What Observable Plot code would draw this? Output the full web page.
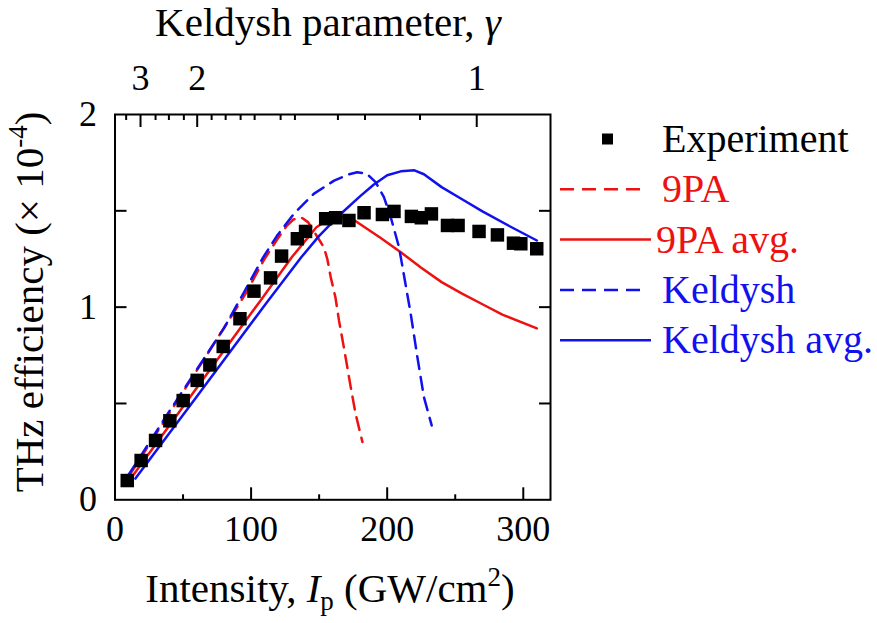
<!DOCTYPE html>
<html><head><meta charset="utf-8">
<script src="https://cdn.jsdelivr.net/npm/d3@7"></script>
<script src="https://cdn.jsdelivr.net/npm/@observablehq/plot@0.6"></script>
<style>
body{margin:0;background:#fff;}
#wrap{width:877px;height:623px;}
</style></head><body><div id="wrap"></div>
<script>
// ---- data ----
const expI   = [9.0,19.2,29.8,40.3,50.1,60.4,69.7,79.5,91.8,102.1,114.3,122.4,134.0,140.0,154.8,162.1,171.9,183.0,196.5,205.0,217.8,225.1,232.5,244.3,252.1,267.5,281.0,292.8,298.2,309.9];
const expEff = [0.100,0.204,0.308,0.410,0.515,0.620,0.700,0.796,0.940,1.083,1.152,1.265,1.355,1.393,1.459,1.464,1.450,1.490,1.481,1.497,1.471,1.464,1.484,1.424,1.424,1.393,1.375,1.332,1.329,1.303];

const pa9I   = [10,40,70,96,109,119,126,131,137,142,146.5,150,153.5,156,158.5,162,164.6,168.2,173.2,176.8,181.8];
const pa9Eff = [0.12,0.45,0.78,1.07,1.24,1.35,1.42,1.455,1.465,1.44,1.39,1.35,1.31,1.25,1.156,1.05,0.93,0.79,0.585,0.446,0.30];

const pa9AvgI   = [12,60,107,130,148,158,166,175,195,210,225,240,255,270,285,310];
const pa9AvgEff = [0.115,0.58,1.035,1.26,1.415,1.46,1.47,1.455,1.36,1.285,1.205,1.13,1.07,1.015,0.96,0.89];

const keldI   = [10,40,80,95,109,119,131.5,146,161,172,178,185,191.5,197.6,202.6,208.7,217.3,222.2,227,232.7];
const keldEff = [0.13,0.46,0.89,1.08,1.26,1.37,1.485,1.588,1.657,1.69,1.70,1.692,1.649,1.571,1.467,1.311,0.965,0.74,0.533,0.386];

const keldAvgI   = [15,60,110,137,150,166,180,190,200,210,220,227,240,255,270,290,310];
const keldAvgEff = [0.11,0.535,1.01,1.26,1.37,1.485,1.575,1.635,1.685,1.705,1.71,1.69,1.623,1.56,1.497,1.42,1.346];

// axis ticks
const xMajor = [0,100,200,300];
const xMinor = [50,150,250];
const yLabels = [0,1,2];
const yTicks = [0.5,1,1.5];
const gammaLabels = ["3","2","1"];
const gammaMajorI = [18.75,60.4,265.8];
const gammaMinorI = [8.2,29.8,39.6,50.6,71,81.3,92.3,102.6,121.7,132.2,163.8,183.7,224.1];

const legendLabels = ["Experiment","9PA","9PA avg.","Keldysh","Keldysh avg."];
const legendColors = ["#000","#ee1111","#ee1111","#1111ee","#1111ee"];
const legendKinds  = ["square","dash","solid","dash","solid"];

// ---- build ----
const RED = "#ee1111", BLUE = "#1111ee";
const FONT = '"Liberation Serif","Times New Roman",serif';
const fs = 36;
const tfs = 41;
const dash = "13,8";
const pts = (xs, ys) => xs.map((x, i) => ({x, y: ys[i]}));

const svg = Plot.plot({
  width: 877, height: 623,
  marginLeft: 114.5, marginRight: 327, marginTop: 114, marginBottom: 123.7,
  x: {domain: [0, 320]},
  y: {domain: [0, 2]},
  style: {fontFamily: FONT, fontSize: fs + "px", color: "#000", background: "#fff"},
  marks: [
    Plot.axisX(xMajor, {anchor: "bottom", tickSize: -12, tickPadding: 28, strokeWidth: 2, fontSize: fs, label: null, tickFormat: d => String(d)}),
    Plot.axisX(xMinor, {anchor: "bottom", tickSize: -5, strokeWidth: 2, label: null, tickFormat: () => ""}),
    Plot.axisX(gammaMajorI, {anchor: "top", tickSize: -12, tickPadding: 37, strokeWidth: 2, fontSize: fs, label: null, tickFormat: d => gammaLabels[gammaMajorI.indexOf(d)]}),
    Plot.axisX(gammaMinorI, {anchor: "top", tickSize: -5, strokeWidth: 2, label: null, tickFormat: () => ""}),
    Plot.axisY(yLabels, {anchor: "left", tickSize: 0, tickPadding: 18, fontSize: fs, label: null, tickFormat: d => String(d)}),
    Plot.axisY(yTicks, {anchor: "left", tickSize: -12, strokeWidth: 2, label: null, tickFormat: () => ""}),
    Plot.axisY(yTicks, {anchor: "right", tickSize: -12, strokeWidth: 2, label: null, tickFormat: () => ""}),
    Plot.line(pts(pa9I, pa9Eff), {x: "x", y: "y", stroke: RED, strokeWidth: 2.5, strokeDasharray: dash}),
    Plot.line(pts(pa9AvgI, pa9AvgEff), {x: "x", y: "y", stroke: RED, strokeWidth: 2.5}),
    Plot.line(pts(keldI, keldEff), {x: "x", y: "y", stroke: BLUE, strokeWidth: 2.5, strokeDasharray: dash}),
    Plot.line(pts(keldAvgI, keldAvgEff), {x: "x", y: "y", stroke: BLUE, strokeWidth: 2.5}),
    Plot.dot(pts(expI, expEff), {x: "x", y: "y", symbol: "square", r: 7.6, fill: "#000", stroke: null}),
    Plot.frame({stroke: "#000", strokeWidth: 2})
  ]
});

const s = d3.select(svg);
// axis titles
const bt = s.append("text").attr("x", 330).attr("y", 602).attr("text-anchor", "middle")
  .attr("font-size", tfs).attr("font-family", FONT).attr("fill", "#000");
bt.append("tspan").text("Intensity, ");
bt.append("tspan").attr("font-style", "italic").text("I");
bt.append("tspan").attr("font-size", 27).attr("dy", 8).text("p");
bt.append("tspan").attr("dy", -8).text(" (GW/cm");
bt.append("tspan").attr("font-size", 27).attr("dy", -16).text("2");
bt.append("tspan").attr("dy", 16).text(")");

const yt = s.append("text").attr("transform", "translate(43,302) rotate(-90)").attr("text-anchor", "middle")
  .attr("font-size", tfs).attr("font-family", FONT).attr("fill", "#000");
yt.append("tspan").text("THz efficiency (\u00d7 10");
yt.append("tspan").attr("font-size", 27).attr("dy", -16).text("-4");
yt.append("tspan").attr("dy", 16).text(")");

const tt = s.append("text").attr("x", 328).attr("y", 36).attr("text-anchor", "middle")
  .attr("font-size", tfs).attr("font-family", FONT).attr("fill", "#000");
tt.append("tspan").text("Keldysh parameter, ");
tt.append("tspan").attr("font-style", "italic").text("\u03b3");

// legend
const lg = s.append("g").attr("text-anchor", "start");
legendLabels.forEach((lab, i) => {
  const base = 152 + i * 50.3;
  const cy = base - 13;
  if (legendKinds[i] === "square") {
    lg.append("rect").attr("x", 602).attr("y", cy - 5.5).attr("width", 11).attr("height", 11).attr("fill", legendColors[i]);
  } else if (legendKinds[i] === "dash") {
    lg.append("line").attr("x1", 560).attr("x2", 642).attr("y1", cy).attr("y2", cy)
      .attr("stroke", legendColors[i]).attr("stroke-width", 2.5).attr("stroke-dasharray", "14,8");
  } else {
    lg.append("line").attr("x1", 560).attr("x2", 651).attr("y1", cy).attr("y2", cy)
      .attr("stroke", legendColors[i]).attr("stroke-width", 2.5);
  }
  lg.append("text").attr("x", i === 2 ? 656 : 662).attr("y", base).attr("font-size", 40)
    .attr("text-anchor", "start").attr("font-family", FONT).attr("fill", legendColors[i]).text(lab);
});

document.getElementById("wrap").appendChild(svg);
</script></body></html>
